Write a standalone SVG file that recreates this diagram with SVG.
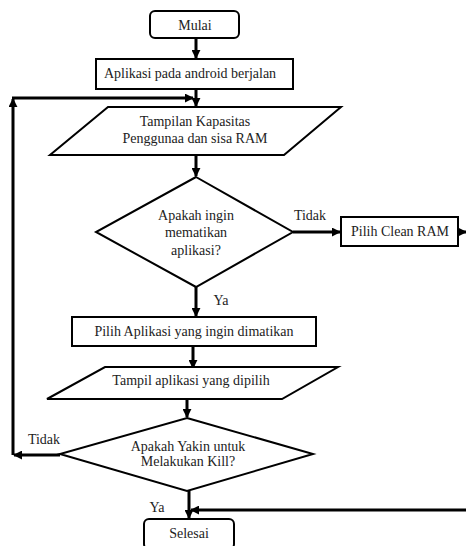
<svg xmlns="http://www.w3.org/2000/svg" width="466" height="546" viewBox="0 0 466 546">
<style>
.s{fill:#fff;stroke:#000;stroke-width:2}
.t{font-family:'Liberation Serif','Times New Roman',serif;font-size:14px;fill:#222;text-anchor:middle}
.c{fill:none;stroke:#000;stroke-width:3}
</style>
<defs>
<marker id="a" viewBox="0 0 10 10" refX="9" refY="5" markerWidth="3" markerHeight="3" orient="auto" markerUnits="strokeWidth">
<path d="M0,0 L10,5 L0,10 z" fill="#000"/>
</marker>
</defs>
<rect width="466" height="546" fill="#fff"/>
<g id="connectors">
<line class="c" x1="196" y1="38" x2="196" y2="58" marker-end="url(#a)"/>
<line class="c" x1="196" y1="89" x2="196" y2="106" marker-end="url(#a)"/>
<line class="c" x1="13" y1="455" x2="13" y2="99" marker-end="url(#a)"/>
<line class="c" x1="12" y1="98" x2="193" y2="98" marker-end="url(#a)"/>
<line class="c" x1="196" y1="155" x2="196" y2="176" marker-end="url(#a)"/>
<line class="c" x1="293" y1="232" x2="340" y2="232" marker-end="url(#a)"/>
<line class="c" x1="458" y1="232" x2="466" y2="232" marker-end="url(#a)"/>
<line class="c" x1="196" y1="287" x2="196" y2="316" marker-end="url(#a)"/>
<line class="c" x1="193" y1="346" x2="193" y2="368" marker-end="url(#a)"/>
<line class="c" x1="187" y1="399" x2="187" y2="417" marker-end="url(#a)"/>
<line class="c" x1="60" y1="455" x2="14" y2="455" marker-end="url(#a)"/>
<line class="c" x1="189" y1="491" x2="189" y2="518" marker-end="url(#a)"/>
<line class="c" x1="466" y1="510" x2="191" y2="510" marker-end="url(#a)"/>
<text class="t" x="310" y="220">Tidak</text>
<text class="t" x="221" y="305">Ya</text>
<text class="t" x="44" y="444">Tidak</text>
<text class="t" x="157" y="512">Ya</text>
</g>
<g id="mulai">
<rect class="s" x="150" y="11" width="89" height="27" rx="5"/>
<text class="t" x="195" y="30">Mulai</text>
</g>
<g id="aplikasi">
<rect class="s" x="96" y="59" width="197" height="30"/>
<text class="t" x="190" y="78">Aplikasi pada android berjalan</text>
</g>
<g id="tampilan">
<polygon class="s" points="108,107 341,107 284,155 50,155"/>
<text class="t" x="195" y="126">Tampilan  Kapasitas</text>
<text class="t" x="195" y="143">Penggunaa dan sisa RAM</text>
</g>
<g id="apakah1">
<polygon class="s" points="196,177 293,232 196,287 96,232"/>
<text class="t" x="196" y="220">Apakah ingin</text>
<text class="t" x="196" y="237">mematikan</text>
<text class="t" x="196" y="255">aplikasi?</text>
</g>
<g id="clean">
<rect class="s" x="341" y="217" width="117" height="29"/>
<text class="t" x="400" y="236">Pilih Clean RAM</text>
</g>
<g id="pilih">
<rect class="s" x="72" y="317" width="244" height="29"/>
<text class="t" x="194" y="336">Pilih Aplikasi yang ingin dimatikan</text>
</g>
<g id="tampil">
<polygon class="s" points="105,367 338,367 282,399 47,399"/>
<text class="t" x="191" y="385">Tampil aplikasi yang dipilih</text>
</g>
<g id="apakah2">
<polygon class="s" points="187,418 313,454 187,491 60,454"/>
<text class="t" x="188" y="451">Apakah Yakin untuk</text>
<text class="t" x="188" y="466">Melakukan Kill?</text>
</g>
<g id="selesai">
<rect class="s" x="144" y="519" width="90" height="30" rx="5"/>
<text class="t" x="189" y="538">Selesai</text>
</g>
</svg>
